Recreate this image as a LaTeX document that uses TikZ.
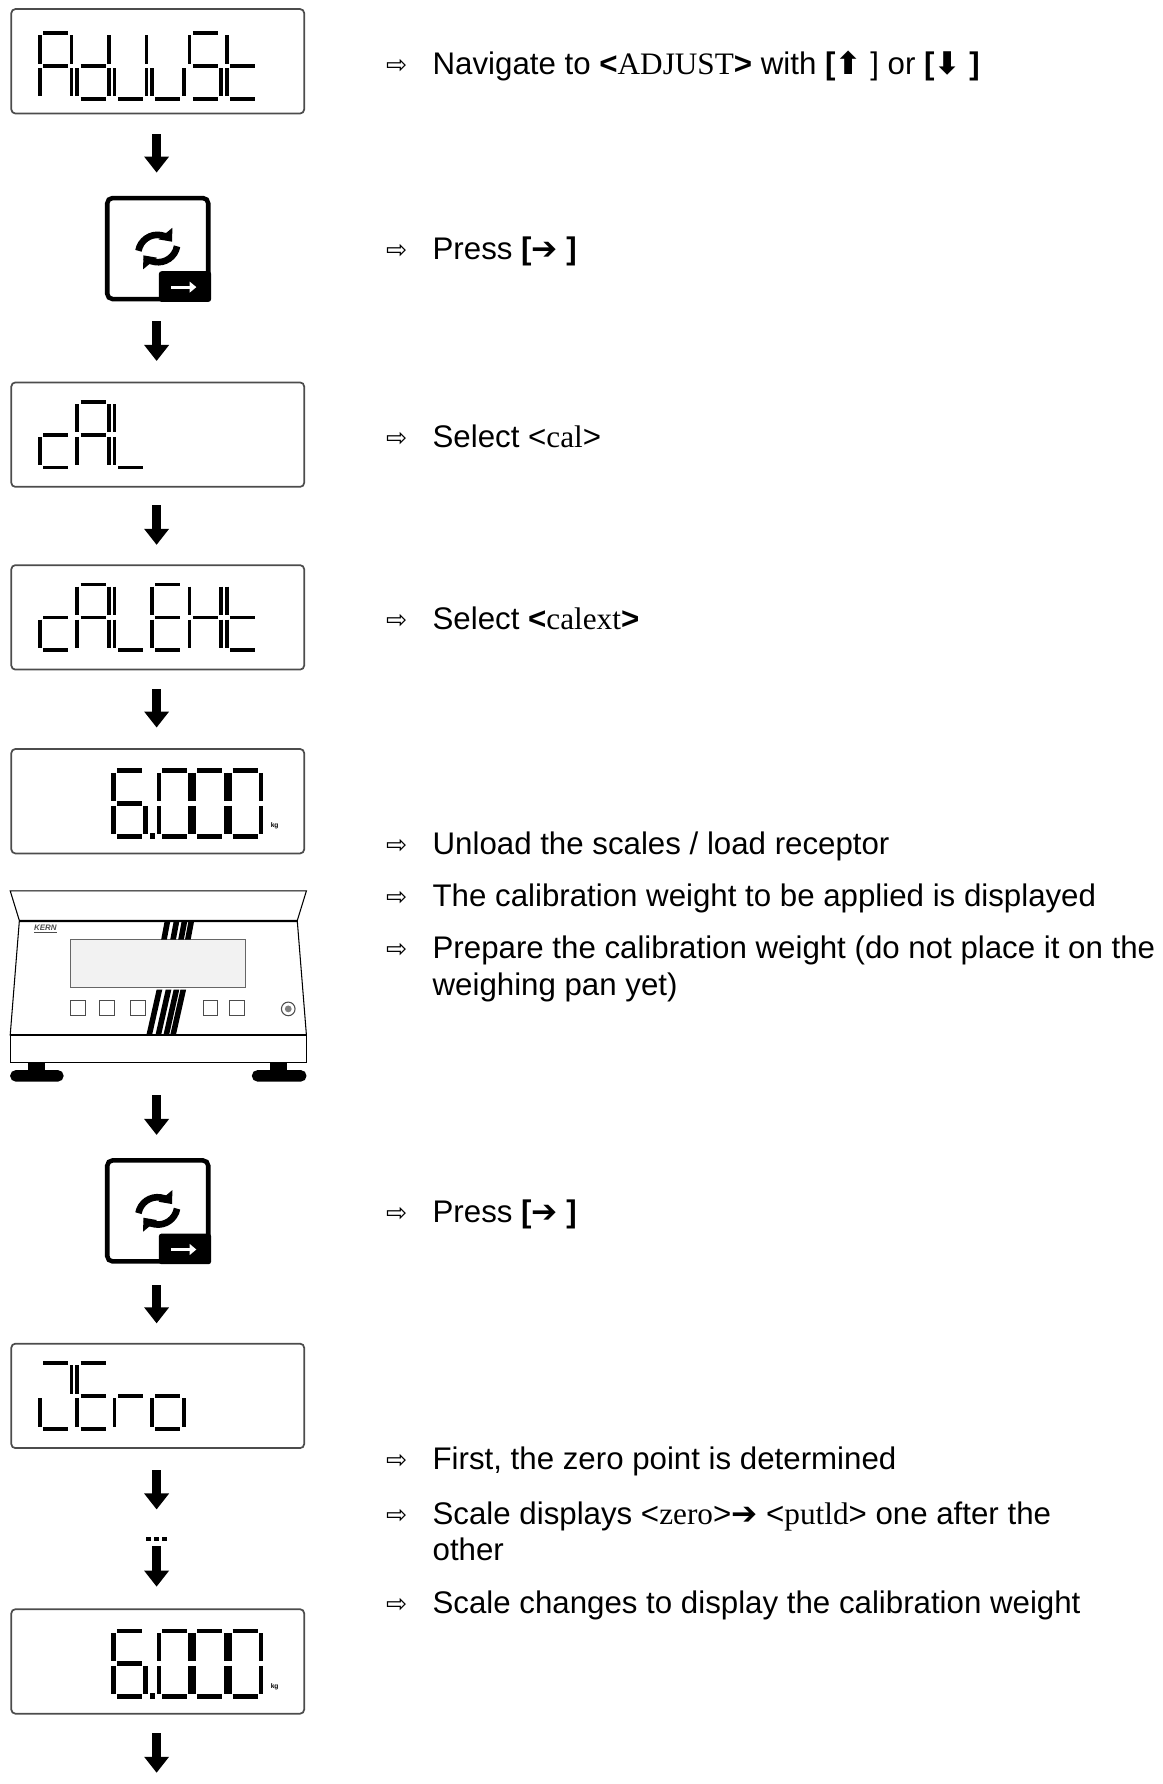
\documentclass[tikz,border=0pt]{standalone}
\usepackage{fontspec}
\setmainfont{Liberation Sans}
\newfontfamily\tnr{Liberation Serif}
\newfontfamily\djv{DejaVu Sans}
\usetikzlibrary{arrows.meta}
\begin{document}
\begin{tikzpicture}[x=0.03cm,y=-0.03cm,
  disp/.style={draw=black!70,line width=1.3pt,rounded corners=3pt,minimum width=7.74cm,minimum height=2.76cm,inner sep=0pt},
  seg/.style={line width=2.8pt,line cap=butt},
  segb/.style={line width=3.4pt,line cap=butt},
  txt/.style={anchor=base west,inner sep=0pt,font=\fontsize{23.5}{28}\selectfont},
  bul/.style={anchor=base west,inner sep=0pt,font=\djv\fontsize{19}{22}\selectfont},
  sg/a/.style={insert path={(3,0)--(25,0)}},
  sg/b/.style={insert path={(28,2)--(28,27)}},
  sg/c/.style={insert path={(28,31)--(28,56)}},
  sg/d/.style={insert path={(3,58)--(25,58)}},
  sg/e/.style={insert path={(0,31)--(0,56)}},
  sg/f/.style={insert path={(0,2)--(0,27)}},
  sg/g/.style={insert path={(3,29)--(25,29)}},
  key/.style={draw,line width=3.4pt,rounded corners=4pt,minimum width=2.67cm,minimum height=2.67cm,inner sep=0pt}]
\useasboundingbox (0,0) rectangle (1024,1572);
\newcommand\sgchar[4]{\begin{scope}[shift={(#1,#2)}]\foreach \s in {#3}{\edef\tmp{\noexpand\draw[#4,sg/\s];}\tmp}\end{scope}}
\newcommand\darr[2]{\fill (134,#1) rectangle (142,#2-13); \fill (127,#2-14) -- (149,#2-14) -- (138,#2) -- cycle;}
\newcommand\keyicon[3]{%
  \node[key] (#3) at (#1,#2) {};
  \fill[rounded corners=2pt] (#1+1,#2+20) -- (#1+47,#2+20) -- (#1+47,#2+47) -- (#1+1,#2+47) -- cycle;
  \draw[white,line width=2.2pt,-{Triangle[length=5pt,width=8pt]}] (#1+12,#2+34) -- (#1+34,#2+34);
  \draw[line width=5pt,-{Triangle[length=8pt,width=13pt]}] (#1-17,#2+2) arc[start angle=190,end angle=320,radius=17];
  \draw[line width=5pt,-{Triangle[length=8pt,width=13pt]}] (#1+17,#2-2) arc[start angle=10,end angle=140,radius=17];}
% display 1: AdJuSt
\node[disp] (b1) at (139,54) {};
\sgchar{35}{29}{a,b,c,e,f,g}{seg}
\sgchar{68}{29}{b,c,d,e,g}{seg}
\sgchar{101}{29}{b,c,d,e}{seg}
\sgchar{134}{29}{c,d,e}{seg}
\sgchar{167}{29}{a,f,g,c,d}{seg}
\sgchar{200}{29}{d,e,f,g}{seg}
\darr{118}{152}
\keyicon{139}{219}{k1}
\darr{283}{318}
% cAL
\node[disp] (b2) at (139,383) {};
\sgchar{35}{354}{g,e,d}{seg}
\sgchar{68}{354}{a,b,c,e,f,g}{seg}
\sgchar{101}{354}{f,e,d}{seg}
\darr{445}{480}
% cALEHt
\node[disp] (b3) at (139,544) {};
\sgchar{35}{515}{g,e,d}{seg}
\sgchar{68}{515}{a,b,c,e,f,g}{seg}
\sgchar{101}{515}{f,e,d}{seg}
\sgchar{134}{515}{a,f,g,e,d}{seg}
\sgchar{167}{515}{b,c,e,f,g}{seg}
\sgchar{200}{515}{d,e,f,g}{seg}
\darr{607}{641}
% 6.000
\node[disp] (b4) at (139,706) {};
\sgchar{100}{679}{a,f,g,e,d,c}{segb}
\fill (132,734) rectangle (137,739);
\sgchar{140}{679}{a,b,c,d,e,f}{segb}
\sgchar{171}{679}{a,b,c,d,e,f}{segb}
\sgchar{202}{679}{a,b,c,d,e,f}{segb}
\node[font=\bfseries\fontsize{5}{6}\selectfont,inner sep=0pt] at (242,728) {kg};
% scale picture
\draw[line width=0.8pt] (9,785) -- (270,785) -- (262,811) -- (17,811) -- cycle;
\draw[line width=0.8pt] (17,812) -- (262,812) -- (270,912) -- (9,912) -- cycle;
\draw[line width=0.8pt] (9,912) rectangle (270,936);
\fill[black!5] (62,828) rectangle (216,870);
\draw[black!60,line width=0.6pt] (62,828) rectangle (216,870);
\foreach \xx in {62,88,115,179,202}{\draw[black!70,line width=0.7pt] (\xx,882) rectangle (\xx+13,895);}
\draw[black!70,line width=0.8pt] (254,889) circle (6); \fill[black!50] (254,889) circle (3);
\node[font=\bfseries\itshape\fontsize{6}{7}\selectfont,inner sep=0pt,text=black!70] at (40,819) {\underline{KERN}};
\foreach \dx in {0,8,15,21}{\fill (145+\dx,812) -- (150+\dx,812) -- (147+\dx,828) -- (142+\dx,828) -- cycle;
  \fill (138+\dx,872) -- (143+\dx,872) -- (134+\dx,912) -- (129+\dx,912) -- cycle;}
\fill (25,936) rectangle (40,945); \fill[rounded corners=4pt] (9,943) rectangle (56,953);
\fill (238,936) rectangle (253,945); \fill[rounded corners=4pt] (222,943) rectangle (270,953);
\darr{965}{1000}
\keyicon{139}{1067}{k2}
\darr{1132}{1166}
% ZEro
\node[disp] (b5) at (139,1230) {};
\sgchar{35}{1201}{a,b,e,d}{seg}
\sgchar{68}{1201}{a,f,g,e,d}{seg}
\sgchar{101}{1201}{e,g}{seg}
\sgchar{134}{1201}{c,d,e,g}{seg}
\darr{1295}{1330}
\foreach \xx in {131,138,145}{\fill (\xx-2,1354) rectangle (\xx+2,1358);}
\darr{1362}{1398}
% 6.000
\node[disp] (b6) at (139,1464) {};
\sgchar{100}{1437}{a,f,g,e,d,c}{segb}
\fill (132,1492) rectangle (137,1497);
\sgchar{140}{1437}{a,b,c,d,e,f}{segb}
\sgchar{171}{1437}{a,b,c,d,e,f}{segb}
\sgchar{202}{1437}{a,b,c,d,e,f}{segb}
\node[font=\bfseries\fontsize{5}{6}\selectfont,inner sep=0pt] at (242,1486) {kg};
\darr{1527}{1562}
% texts
\foreach \yy/\nm in {66/1,229/2,394/3,555/4,753/5,799/6,845/7,1077/8,1295/9,1343/10,1422/11}{\node[bul] (u\nm) at (340,\yy-1) {⇨};}
\node[txt] (t1) at (381,66) {Navigate to \textbf{<}{\tnr ADJUST}\textbf{>} with \textbf{[}{\djv\bfseries ⬆} ] or \textbf{[}{\djv\bfseries ⬇} \textbf{]}};
\node[txt] (t2) at (381,229) {Press \textbf{[}{\djv\bfseries ➔} \textbf{]}};
\node[txt] (t3) at (381,394) {Select <{\tnr cal}>};
\node[txt] (t4) at (381,555) {Select \textbf{<}{\tnr calext}\textbf{>}};
\node[txt] (t5) at (381,753) {Unload the scales / load receptor};
\node[txt] (t6) at (381,799) {The calibration weight to be applied is displayed};
\node[txt] (t7) at (381,845) {Prepare the calibration weight (do not place it on the};
\node[txt] (t7b) at (381,877) {weighing pan yet)};
\node[txt] (t8) at (381,1077) {Press \textbf{[}{\djv\bfseries ➔} \textbf{]}};
\node[txt] (t9) at (381,1295) {First, the zero point is determined};
\node[txt] (t10) at (381,1343) {Scale displays <{\tnr zero}>{\djv\bfseries ➔} <{\tnr putld}> one after the};
\node[txt] (t10b) at (381,1375) {other};
\node[txt] (t11) at (381,1422) {Scale changes to display the calibration weight};
\end{tikzpicture}
\end{document}
